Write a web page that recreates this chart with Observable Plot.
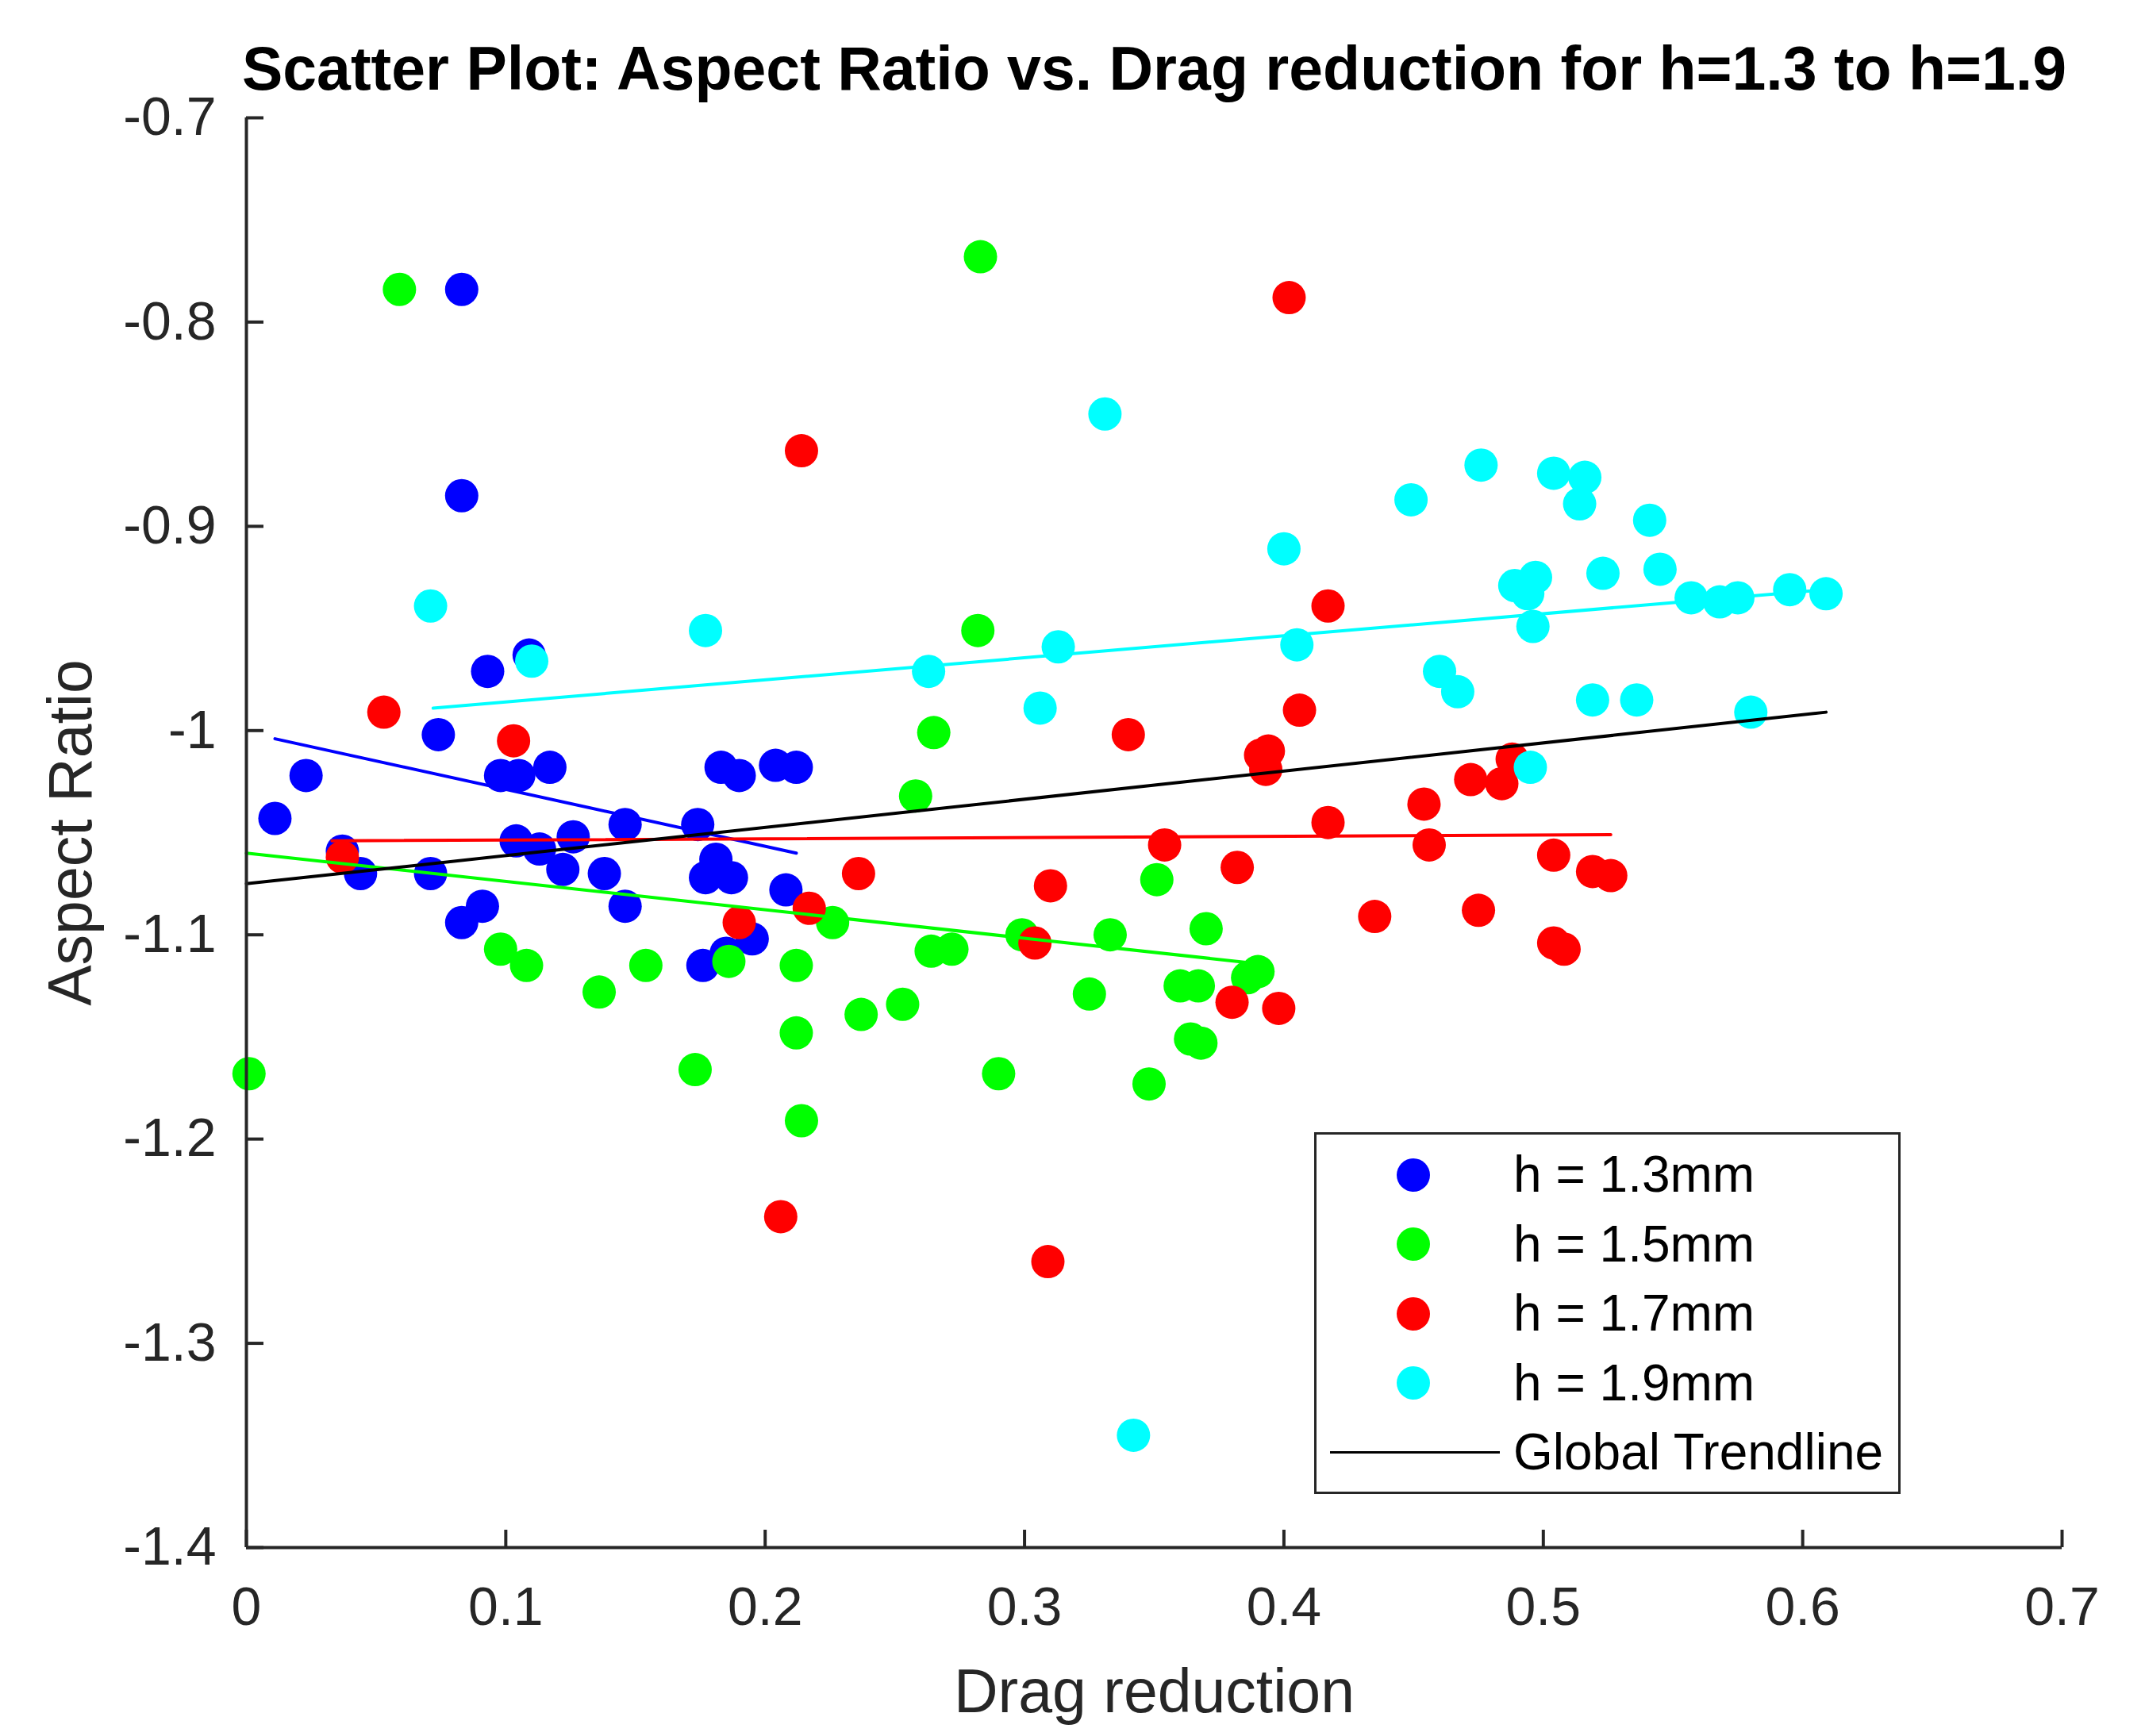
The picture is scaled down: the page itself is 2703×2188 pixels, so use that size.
<!DOCTYPE html>
<html>
<head>
<meta charset="utf-8">
<script src="https://cdn.jsdelivr.net/npm/d3@7"></script>
<script src="https://cdn.jsdelivr.net/npm/@observablehq/plot@0.6"></script>
<style>
  body { margin: 0; background: #fff; }
  #wrap { position: relative; width: 2703px; height: 2188px; font-family: "Liberation Sans", Arial, sans-serif; }
  #legend { position: absolute; left: 1656px; top: 1427px; width: 733px; height: 443px; border: 3px solid #262626; background: #fff; box-sizing: content-box; padding-top: 7px; }
  .row { position: relative; height: 87.5px; }
  .sw { position: absolute; left: 101px; top: 22.75px; width: 42px; height: 42px; border-radius: 50%; }
  .ln { position: absolute; left: 17px; top: 42px; width: 214px; height: 3px; background: #000; }
  .lb { position: absolute; left: 248px; top: 0; line-height: 87.5px; font-size: 64px; color: #000; white-space: nowrap; }
</style>
</head>
<body>
<div id="wrap"><div id="chart"></div><div id="legend"></div></div>
<script>
// series names and colours
const groups = ["h = 1.3mm", "h = 1.5mm", "h = 1.7mm", "h = 1.9mm"]
const colors = ["#0000ff", "#00ff00", "#ff0000", "#00ffff"]

// h = 1.3mm
const h13Drag = [0.083,0.083,0.011,0.023,0.037,0.044,0.071,0.074,0.093,0.109,0.083,0.091,0.098,0.105,0.117,0.104,0.113,0.122,0.126,0.138,0.146,0.146,0.174,0.176,0.177,0.183,0.190,0.181,0.187,0.185,0.195,0.204,0.212,0.208]
const h13Aspect = [-0.784,-0.885,-1.043,-1.022,-1.059,-1.070,-1.070,-1.002,-0.971,-0.963,-1.094,-1.086,-1.022,-1.022,-1.018,-1.054,-1.058,-1.068,-1.052,-1.070,-1.046,-1.086,-1.046,-1.115,-1.072,-1.018,-1.022,-1.063,-1.072,-1.109,-1.102,-1.017,-1.018,-1.078]
// h = 1.5mm
const h15Drag = [0.059,0.283,0.001,0.098,0.108,0.136,0.154,0.173,0.186,0.212,0.212,0.214,0.226,0.237,0.253,0.258,0.265,0.282,0.264,0.272,0.290,0.299,0.325,0.333,0.348,0.351,0.360,0.367,0.364,0.368,0.370,0.386,0.390]
const h15Aspect = [-0.784,-0.768,-1.168,-1.107,-1.115,-1.128,-1.115,-1.166,-1.113,-1.115,-1.148,-1.191,-1.094,-1.139,-1.134,-1.032,-1.001,-0.951,-1.108,-1.107,-1.168,-1.100,-1.129,-1.100,-1.173,-1.073,-1.125,-1.125,-1.151,-1.153,-1.097,-1.121,-1.118]
// h = 1.7mm
const h17Drag = [0.053,0.037,0.103,0.214,0.190,0.217,0.206,0.236,0.304,0.310,0.309,0.340,0.354,0.380,0.382,0.391,0.394,0.393,0.398,0.402,0.406,0.417,0.417,0.435,0.454,0.456,0.472,0.475,0.484,0.488,0.504,0.504,0.508,0.519,0.526]
const h17Aspect = [-0.991,-1.062,-1.005,-0.863,-1.094,-1.087,-1.238,-1.070,-1.104,-1.076,-1.260,-1.002,-1.056,-1.133,-1.067,-1.012,-1.010,-1.019,-1.136,-0.788,-0.990,-0.939,-1.045,-1.091,-1.036,-1.056,-1.024,-1.088,-1.026,-1.014,-1.061,-1.104,-1.107,-1.069,-1.071]
// h = 1.9mm
const h19Drag = [0.071,0.110,0.177,0.263,0.306,0.313,0.331,0.342,0.400,0.405,0.449,0.460,0.467,0.476,0.489,0.494,0.497,0.496,0.495,0.504,0.516,0.514,0.523,0.519,0.536,0.541,0.545,0.557,0.568,0.575,0.580,0.595,0.609]
const h19Aspect = [-0.939,-0.966,-0.951,-0.971,-0.989,-0.959,-0.845,-1.345,-0.911,-0.958,-0.887,-0.971,-0.981,-0.870,-0.929,-0.933,-0.925,-0.949,-1.018,-0.874,-0.876,-0.889,-0.923,-0.985,-0.985,-0.897,-0.921,-0.935,-0.937,-0.935,-0.991,-0.931,-0.933]

// trend line end points
const trendDrag = [[0.011,0.212],[0,0.389],[0.033,0.526],[0.072,0.609]]
const trendAspect = [[-1.004,-1.060],[-1.060,-1.114],[-1.054,-1.051],[-0.989,-0.931]]
const globalDrag = [0, 0.609]
const globalAspect = [-1.075, -0.991]

const xTicks = [0,0.1,0.2,0.3,0.4,0.5,0.6,0.7]
const yTicks = [-1.4,-1.3,-1.2,-1.1,-1,-0.9,-0.8,-0.7]

const drags = [h13Drag, h15Drag, h17Drag, h19Drag]
const aspects = [h13Aspect, h15Aspect, h17Aspect, h19Aspect]

let points = []
groups.forEach((g, i) => drags[i].forEach((d, j) => points.push({group: g, drag: d, aspect: aspects[i][j]})))

let trends = []
groups.forEach((g, i) => trendDrag[i].forEach((d, j) => trends.push({group: g, drag: d, aspect: trendAspect[i][j]})))
let globalLine = globalDrag.map((d, j) => ({drag: d, aspect: globalAspect[j]}))

const fmt = d => String(+d.toFixed(1))
const axisColor = "#262626"

let chart = Plot.plot({
  width: 2703,
  height: 2188,
  marginLeft: 310,
  marginRight: 105,
  marginTop: 148,
  marginBottom: 238,
  style: {fontFamily: '"Liberation Sans", Arial, sans-serif', background: "#fff", color: axisColor},
  x: {domain: [0, 0.7]},
  y: {domain: [-1.4, -0.7]},
  color: {domain: groups, range: colors},
  marks: [
    Plot.dot(points, {x: "drag", y: "aspect", fill: "group", r: 21, stroke: null}),
    Plot.line(trends, {x: "drag", y: "aspect", z: "group", stroke: "group", strokeWidth: 4}),
    Plot.line(globalLine, {x: "drag", y: "aspect", stroke: "#000", strokeWidth: 4}),
    Plot.ruleX([0], {stroke: axisColor, strokeWidth: 4}),
    Plot.ruleY([-1.4], {stroke: axisColor, strokeWidth: 4}),
    Plot.axisX({ticks: xTicks, tickFormat: fmt, tickSize: -22, tickPadding: 71, fontSize: 68, label: null, stroke: axisColor, strokeWidth: 4, fill: axisColor}),
    Plot.axisY({ticks: yTicks, tickFormat: fmt, tickSize: -22, tickPadding: 60, fontSize: 68, label: null, stroke: axisColor, strokeWidth: 4, fill: axisColor}),
    Plot.text(["Scatter Plot: Aspect Ratio vs. Drag reduction for h=1.3 to h=1.9"], {text: d => d, frameAnchor: "top", dy: -90, fontSize: 77, fontWeight: "bold", fill: "#000"}),
    Plot.text(["Drag reduction"], {text: d => d, frameAnchor: "bottom", dy: 207, fontSize: 77, fill: axisColor}),
    Plot.text(["Aspect Ratio"], {text: d => d, frameAnchor: "left", textAnchor: "middle", dx: -220, rotate: -90, fontSize: 77, fill: axisColor})
  ]
})
d3.select('#chart').append(() => chart)

// legend box
const legend = d3.select('#legend')
groups.forEach((g, i) => {
  let row = legend.append('div').attr('class', 'row')
  row.append('div').attr('class', 'sw').style('background', colors[i])
  row.append('div').attr('class', 'lb').text(g)
})
let last = legend.append('div').attr('class', 'row')
last.append('div').attr('class', 'ln')
last.append('div').attr('class', 'lb').text("Global Trendline")
</script>
</body>
</html>
